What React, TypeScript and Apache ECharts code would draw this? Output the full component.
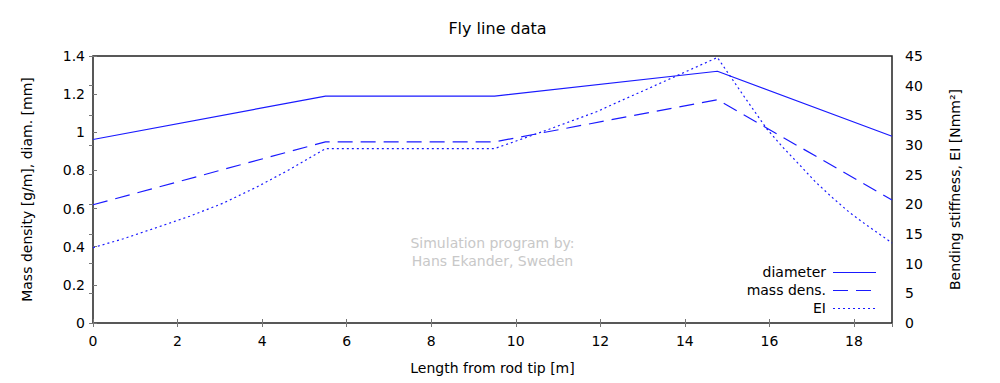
import React, { useEffect, useRef } from "react";
import * as echarts from "echarts";

const diameterData: [number, number][] = [
  [0, 0.962],
  [5.5, 1.19],
  [9.5, 1.19],
  [14.77, 1.32],
  [18.9, 0.979],
];

const massDensData: [number, number][] = [
  [0, 0.62],
  [5.5, 0.95],
  [9.5, 0.95],
  [14.77, 1.171],
  [18.9, 0.645],
];

const eiData: [number, number][] = [
  [0, 12.7],
  [0.72, 14.2],
  [1.51, 16.1],
  [2.29, 18.0],
  [3.08, 20.2],
  [3.87, 22.9],
  [4.66, 25.9],
  [5.5, 29.4],
  [9.5, 29.4],
  [10.1, 30.9],
  [10.73, 32.5],
  [11.3, 34.0],
  [11.91, 35.6],
  [12.5, 37.5],
  [13.1, 39.4],
  [13.88, 41.9],
  [14.77, 44.75],
  [15.38, 38.4],
  [15.93, 32.8],
  [16.32, 29.6],
  [16.72, 26.6],
  [17.1, 23.7],
  [17.51, 21.0],
  [17.9, 18.6],
  [18.3, 16.5],
  [18.9, 13.5],
];

const seriesNames = ["diameter", "mass dens.", "EI"];
const legendDashes: (number[] | null)[] = [null, [15, 8], [2, 3]];
const watermarkLines = ["Simulation program by:", "Hans Ekander, Sweden"];

const FONT = "DejaVu Sans";
const BLUE = "#1a1aff";
const FS = 14;

export default function App() {
  const ref = useRef<HTMLDivElement>(null);
  useEffect(() => {
    document.documentElement.style.overflow = "hidden";
    document.body.style.margin = "0";
    document.body.style.overflow = "hidden";
    if (!ref.current) return;
    const chart = echarts.init(ref.current, undefined, { renderer: "svg", width: 1000, height: 383 });
    const tickStyle = { show: true, inside: true, length: 4, lineStyle: { color: "#777", width: 1 } };
    const legendRowsY = [272, 290, 308];
    const legendGraphics: any[] = [];
    seriesNames.forEach((n, i) => {
      legendGraphics.push({
        type: "text",
        x: 826,
        y: legendRowsY[i],
        style: {
          text: n,
          fontFamily: FONT,
          fontSize: FS,
          fill: "#000",
          textAlign: "right",
          textVerticalAlign: "middle",
        },
      });
      legendGraphics.push({
        type: "line",
        shape: { x1: 833, y1: legendRowsY[i] + 0.5, x2: 876, y2: legendRowsY[i] + 0.5 },
        style: {
          stroke: BLUE,
          lineWidth: 1.2,
          lineDash: legendDashes[i] || undefined,
        },
      });
    });
    const watermark = watermarkLines.map((t, i) => ({
      type: "text",
      x: 492.5,
      y: 243 + i * 18,
      style: {
        text: t,
        fontFamily: FONT,
        fontSize: FS,
        fill: "#c8c8c8",
        textAlign: "center",
        textVerticalAlign: "middle",
      },
    }));
    chart.setOption({
      animation: false,
      backgroundColor: "#fff",
      textStyle: { fontFamily: FONT },
      title: {
        text: "Fly line data",
        left: 492.5,
        textAlign: "center",
        top: 15,
        textStyle: { fontFamily: FONT, fontSize: 16, fontWeight: "normal", color: "#000" },
      },
      grid: {
        left: 93,
        right: 108,
        top: 56,
        bottom: 60,
        containLabel: false,
        outerBoundsMode: "none",
        show: true,
        borderColor: "#222",
        borderWidth: 1.5,
        backgroundColor: "transparent",
      },
      xAxis: [
        {
          type: "value",
          min: 0,
          max: 18.9,
          interval: 2,
          name: "Length from rod tip [m]",
          nameLocation: "middle",
          nameGap: 38,
          nameTextStyle: { fontFamily: FONT, fontSize: FS, color: "#000" },
          axisLine: { show: false },
          axisTick: tickStyle,
          splitLine: { show: false },
          axisLabel: {
            fontFamily: FONT,
            fontSize: FS,
            color: "#000",
            margin: 11,
            showMaxLabel: false,
          },
        },
        {
          type: "value",
          position: "top",
          min: 0,
          max: 18.9,
          interval: 2,
          axisLine: { show: false },
          axisTick: tickStyle,
          splitLine: { show: false },
          axisLabel: { show: false },
        },
      ],
      yAxis: [
        {
          type: "value",
          min: 0,
          max: 1.4,
          interval: 0.2,
          position: "left",
          name: "Mass density [g/m], diam. [mm]",
          nameLocation: "middle",
          nameGap: 59,
          nameRotate: 90,
          nameTextStyle: { fontFamily: FONT, fontSize: FS, color: "#000" },
          axisLine: { show: false },
          axisTick: tickStyle,
          splitLine: { show: false },
          axisLabel: {
            fontFamily: FONT,
            fontSize: FS,
            color: "#000",
            margin: 8,
            formatter: (v: number) => String(Math.round(v * 10) / 10),
          },
        },
        {
          type: "value",
          min: 0,
          max: 45,
          interval: 5,
          position: "right",
          offset: 0,
          name: "Bending stiffness, EI [Nmm²]",
          nameLocation: "middle",
          nameGap: 56,
          nameRotate: 90,
          nameTextStyle: { fontFamily: FONT, fontSize: FS, color: "#000" },
          axisLine: { show: false },
          axisTick: tickStyle,
          splitLine: { show: false },
          axisLabel: { fontFamily: FONT, fontSize: FS, color: "#000", margin: 13 },
        },
      ],
      graphic: [...watermark, ...legendGraphics],
      series: [
        {
          name: seriesNames[0],
          type: "line",
          data: diameterData,
          showSymbol: false,
          xAxisIndex: 0,
          yAxisIndex: 0,
          itemStyle: { color: BLUE },
          lineStyle: { color: BLUE, width: 1.2, type: "solid" },
        },
        {
          name: seriesNames[1],
          type: "line",
          data: massDensData,
          showSymbol: false,
          xAxisIndex: 0,
          yAxisIndex: 0,
          itemStyle: { color: BLUE },
          lineStyle: { color: BLUE, width: 1.2, type: [15, 8] },
        },
        {
          name: seriesNames[2],
          type: "line",
          data: eiData,
          showSymbol: false,
          xAxisIndex: 0,
          yAxisIndex: 1,
          itemStyle: { color: BLUE },
          lineStyle: { color: BLUE, width: 1.2, type: [2, 3] },
        },
      ],
    });
    return () => chart.dispose();
  }, []);
  return (
    <div
      ref={ref}
      style={{ position: "absolute", left: 0, top: 0, width: 1000, height: 383, overflow: "hidden" }}
    />
  );
}
